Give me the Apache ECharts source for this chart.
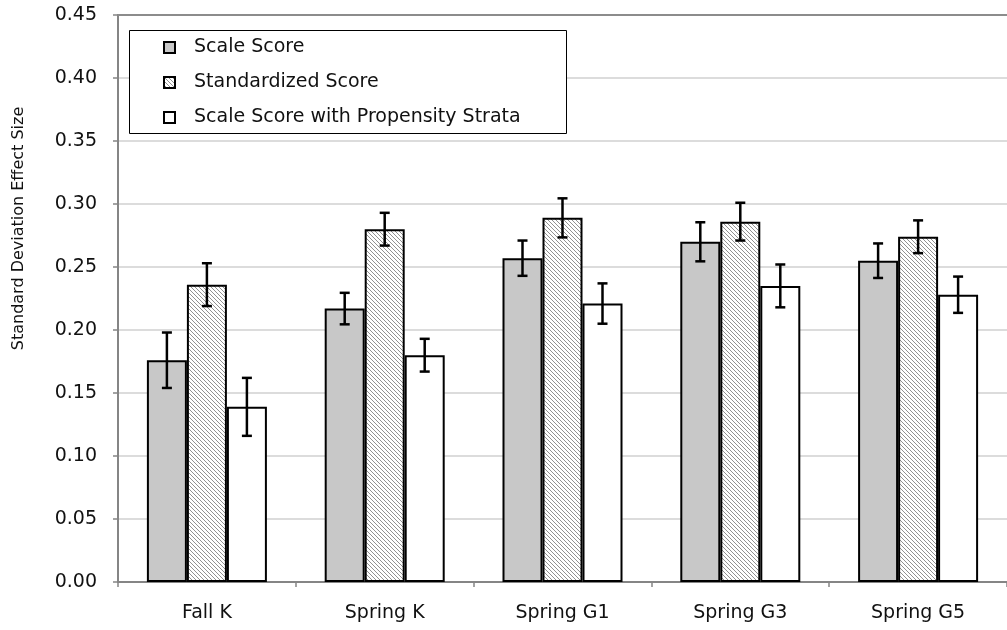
<!DOCTYPE html>
<html>
<head>
<meta charset="utf-8">
<script src="https://cdn.jsdelivr.net/npm/echarts@6/dist/echarts.min.js"></script>
<style>
  html, body { margin: 0; padding: 0; background: #fff; }
  #chart { width: 1007px; height: 630px; }
</style>
</head>
<body>
<div id="chart"></div>
<script>
const categories = ['Fall K', 'Spring K', 'Spring G1', 'Spring G3', 'Spring G5'];
const seriesNames = ['Scale Score', 'Standardized Score', 'Scale Score with Propensity Strata'];
const scaleScore = [0.176, 0.217, 0.257, 0.270, 0.255];
const scaleScoreErr = [0.022, 0.0125, 0.014, 0.0155, 0.0137];
const standardizedScore = [0.236, 0.280, 0.289, 0.286, 0.274];
const standardizedScoreErr = [0.017, 0.013, 0.0155, 0.015, 0.013];
const propensityScore = [0.139, 0.180, 0.221, 0.235, 0.228];
const propensityScoreErr = [0.023, 0.013, 0.016, 0.017, 0.0144];
const yTicks = { min: 0, max: 0.45, interval: 0.05 };

// hatch pattern (diagonal "\" lines)
function makeHatch() {
  const c = document.createElement('canvas');
  c.width = 8; c.height = 8;
  const ctx = c.getContext('2d');
  const img = ctx.createImageData(8, 8);
  for (let y = 0; y < 8; y++) {
    for (let x = 0; x < 8; x++) {
      const i = (y * 8 + x) * 4;
      const dark = ((x - y) % 4 + 4) % 4 === 0;
      const v = dark ? 145 : 255;
      img.data[i] = v; img.data[i + 1] = v; img.data[i + 2] = v; img.data[i + 3] = 255;
    }
  }
  ctx.putImageData(img, 0, 0);
  return c;
}
const hatch = makeHatch();

const FONT = 'DejaVu Sans, Verdana, sans-serif';
const BAR_W = 40;
const values = [scaleScore, standardizedScore, propensityScore];
const errs = [scaleScoreErr, standardizedScoreErr, propensityScoreErr];
const fills = ['#c8c8c8', { image: hatch, repeat: 'repeat' }, '#ffffff'];
const offsets = [-BAR_W, 0, BAR_W];

const barSeries = seriesNames.map((name, s) => ({
  name: name,
  type: 'bar',
  barWidth: BAR_W,
  barGap: '0%',
  data: values[s],
  itemStyle: { color: fills[s], borderColor: '#000', borderWidth: 2 },
  emphasis: { disabled: true },
  z: 2
}));

const errSeries = seriesNames.map((name, s) => ({
  name: name + ' error',
  type: 'custom',
  z: 3,
  silent: true,
  data: categories.map((c, i) => [i, values[s][i], errs[s][i]]),
  encode: { x: 0, y: 1 },
  renderItem: function (params, api) {
    const i = api.value(0), v = api.value(1), e = api.value(2);
    const top = api.coord([i, v + e]);
    const bot = api.coord([i, v - e]);
    const x = top[0] + offsets[s];
    const cap = 5;
    const st = { stroke: '#000', lineWidth: 2.5 };
    return {
      type: 'group',
      children: [
        { type: 'line', shape: { x1: x, y1: top[1], x2: x, y2: bot[1] }, style: st },
        { type: 'line', shape: { x1: x - cap, y1: top[1], x2: x + cap, y2: top[1] }, style: st },
        { type: 'line', shape: { x1: x - cap, y1: bot[1], x2: x + cap, y2: bot[1] }, style: st }
      ]
    };
  }
}));

const chart = echarts.init(document.getElementById('chart'), null, { renderer: 'canvas' });
chart.setOption({
  animation: false,
  backgroundColor: '#fff',
  textStyle: { fontFamily: FONT },
  grid: { left: 118, top: 15, width: 896, height: 567, containLabel: false },
  graphic: [{
    type: 'rect', left: 129, top: 30, z: 10,
    shape: { width: 437, height: 103 },
    style: { fill: '#fff', stroke: '#000', lineWidth: 1 }
  }],
  legend: {
    data: seriesNames,
    orient: 'vertical',
    left: 163, top: 38, z: 20,
    padding: 0,
    itemWidth: 11, itemHeight: 11,
    itemGap: 16,
    icon: 'rect',
    selectedMode: false,
    textStyle: { fontFamily: FONT, fontSize: 19, lineHeight: 19, color: '#111', padding: [0, 0, 0, 14] }
  },
  xAxis: [{
    type: 'category',
    data: categories,
    axisLine: { lineStyle: { color: '#858585', width: 2 } },
    axisTick: { show: true, length: 5, lineStyle: { color: '#858585', width: 1.5 } },
    axisLabel: { fontFamily: FONT, fontSize: 19, color: '#111', margin: 22 },
    splitLine: { show: false }
  }, {
    type: 'category',
    position: 'top',
    data: categories,
    axisLine: { lineStyle: { color: '#8c8c8c', width: 2 } },
    axisTick: { show: false },
    axisLabel: { show: false }
  }],
  yAxis: {
    type: 'value',
    min: yTicks.min, max: yTicks.max, interval: yTicks.interval,
    name: 'Standard Deviation Effect Size',
    nameLocation: 'middle',
    nameGap: 91,
    nameTextStyle: { fontFamily: FONT, fontSize: 16, color: '#111', padding: [0, 0, 0, 140] },
    axisLine: { show: true, lineStyle: { color: '#858585', width: 2 } },
    axisTick: { show: true, length: 5, lineStyle: { color: '#858585', width: 1.5 } },
    axisLabel: { fontFamily: FONT, fontSize: 19, color: '#111', margin: 21, formatter: v => v.toFixed(2) },
    splitLine: { show: true, lineStyle: { color: '#dcdcdc', width: 2 } }
  },
  series: barSeries.concat(errSeries)
});
</script>
</body>
</html>
